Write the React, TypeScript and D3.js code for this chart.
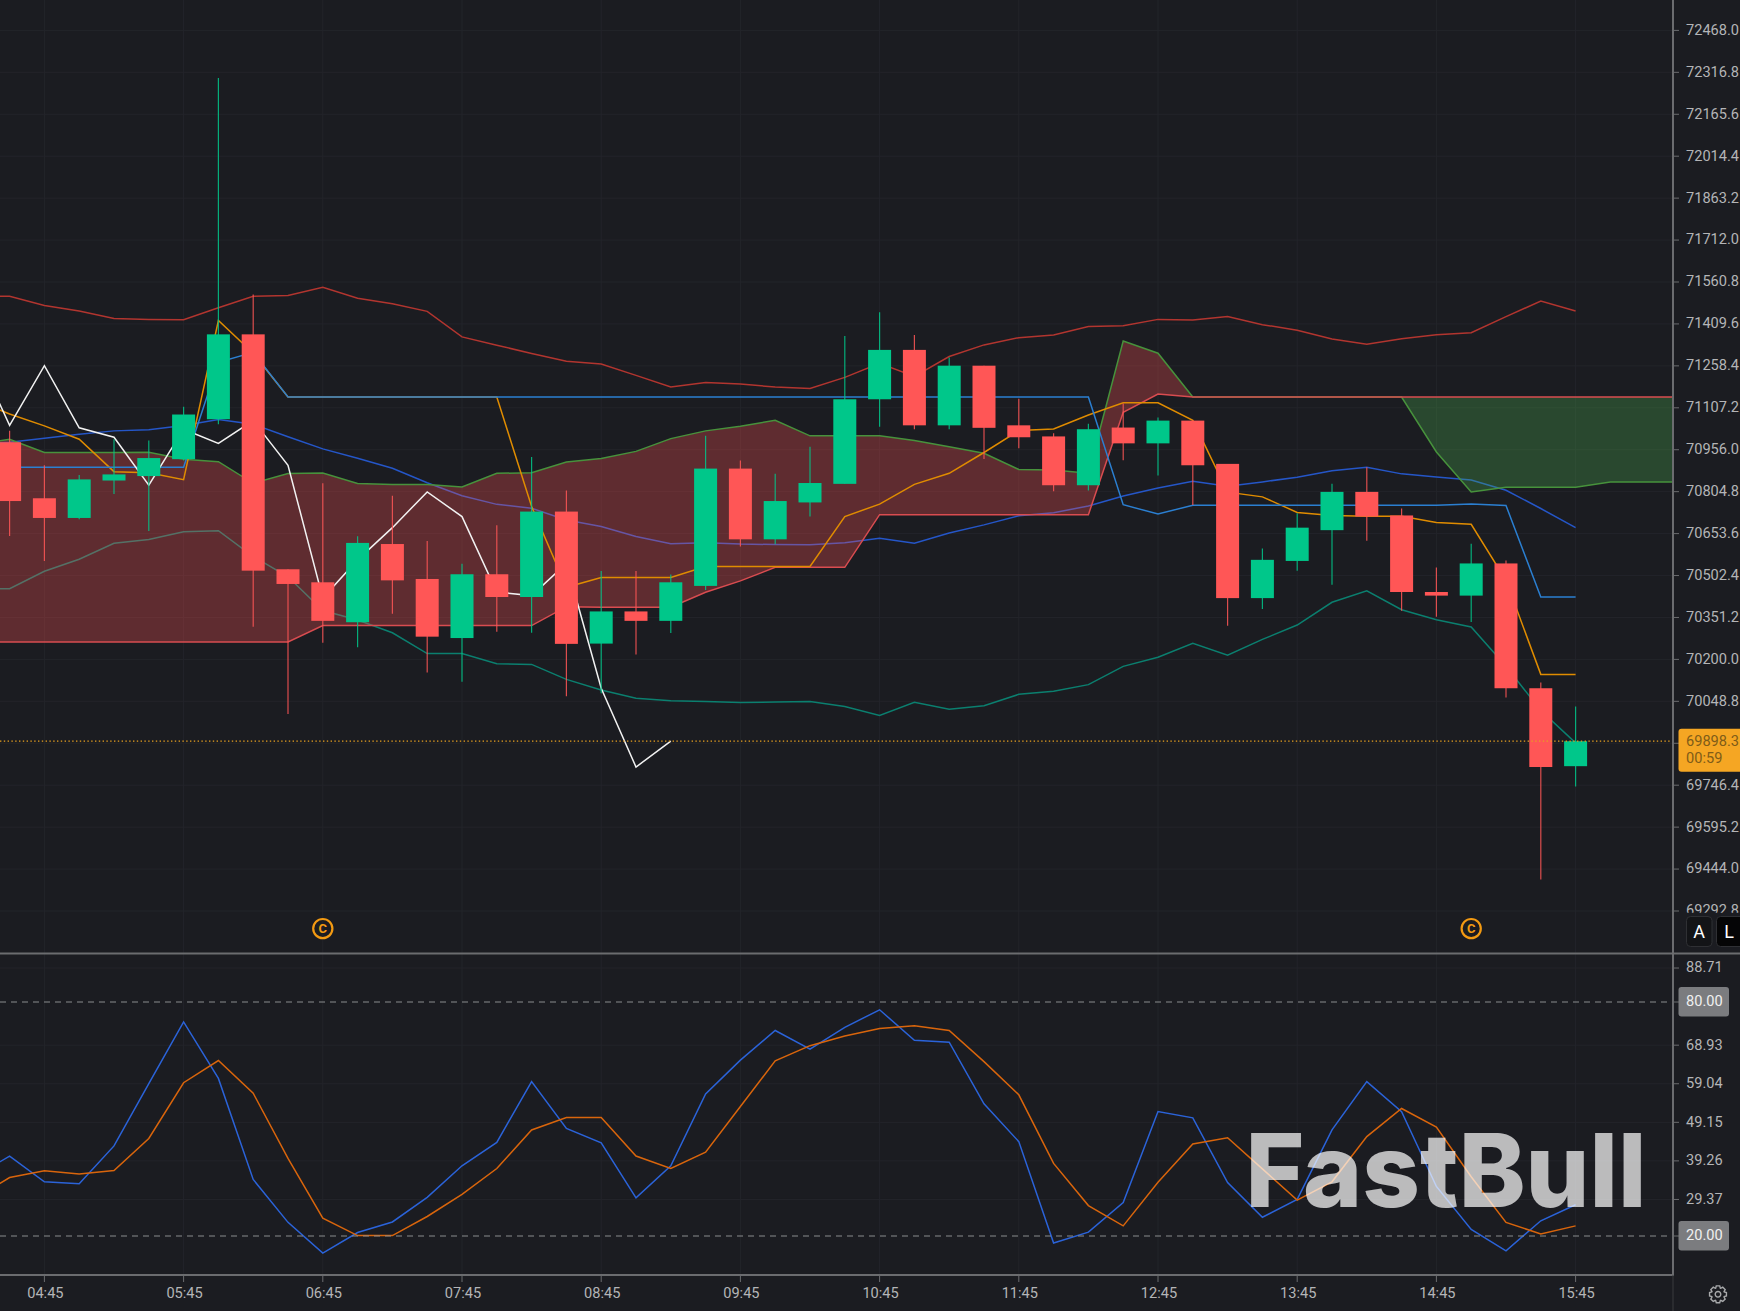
import * as d3 from 'd3';

// 15 minute bars, first bar is 04:30
const opens = [70983, 70781, 70710, 70845, 70861, 70922, 71066, 71372, 70525, 70478, 70334, 70616, 70490, 70277, 70507, 70425, 70733, 70257, 70373, 70339, 70465, 70888, 70633, 70766, 70833, 71138, 71316, 71044, 71259, 71044, 71004, 70828, 71036, 70979, 71061, 70905, 70421, 70555, 70666, 70804, 70719, 70443, 70430, 70546, 70096, 69815];
const highs = [71024, 70900, 70865, 70994, 70989, 71111, 72296, 71516, 70525, 70835, 70644, 70790, 70627, 70545, 70684, 70930, 70809, 70519, 70519, 70506, 71006, 70917, 70869, 70967, 71366, 71452, 71370, 71289, 71259, 71140, 71015, 71050, 71123, 71072, 71061, 70905, 70600, 70727, 70833, 70893, 70744, 70531, 70617, 70557, 70117, 70030];
const lows = [70645, 70555, 70705, 70796, 70663, 70917, 71048, 70318, 70003, 70260, 70244, 70365, 70153, 70119, 70300, 70296, 70067, 70078, 70218, 70295, 70450, 70607, 70615, 70715, 70833, 71039, 71030, 71030, 70923, 70961, 70806, 70809, 70918, 70863, 70757, 70321, 70382, 70520, 70469, 70628, 70375, 70354, 70335, 70063, 69406, 69742];
const closes = [70771, 70710, 70849, 70867, 70926, 71083, 71372, 70520, 70472, 70339, 70620, 70485, 70282, 70507, 70425, 70733, 70256, 70373, 70339, 70478, 70888, 70633, 70771, 70836, 71138, 71316, 71044, 71259, 71035, 71001, 70828, 71030, 70979, 71061, 70900, 70421, 70559, 70675, 70804, 70715, 70443, 70430, 70546, 70096, 69812, 69905];

// indicator lines start one bar earlier (04:15), off the left edge
const bollUpper = [71509, 71509, 71476, 71456, 71429, 71426, 71425, 71468, 71509, 71512, 71542, 71502, 71482, 71455, 71363, 71333, 71303, 71275, 71265, 71224, 71182, 71198, 71193, 71182, 71177, 71217, 71268, 71220, 71292, 71334, 71360, 71370, 71400, 71403, 71426, 71424, 71436, 71407, 71387, 71355, 71336, 71356, 71371, 71378, 71436, 71492, 71456];
const bollMiddle = [70975, 70983, 70997, 71012, 71024, 71028, 71043, 71065, 71048, 71003, 70959, 70925, 70889, 70837, 70790, 70759, 70745, 70703, 70679, 70643, 70617, 70621, 70616, 70614, 70613, 70621, 70637, 70619, 70656, 70685, 70718, 70729, 70753, 70789, 70818, 70842, 70824, 70840, 70857, 70880, 70893, 70869, 70858, 70847, 70810, 70744, 70675];
const bollLower = [70455, 70455, 70518, 70561, 70619, 70632, 70660, 70664, 70571, 70498, 70376, 70342, 70296, 70221, 70221, 70184, 70182, 70128, 70090, 70060, 70051, 70048, 70045, 70046, 70048, 70030, 69998, 70045, 70020, 70033, 70074, 70085, 70109, 70175, 70208, 70258, 70215, 70272, 70324, 70406, 70447, 70379, 70343, 70317, 70175, 70016, 69899];
const conversion = [71135, 71085, 71042, 70994, 70877, 70873, 70848, 71422, 71304, 71146, 71146, 71146, 71146, 71146, 71146, 71146, 70751, 70460, 70495, 70495, 70495, 70535, 70535, 70535, 70535, 70715, 70760, 70831, 70871, 70946, 71025, 71031, 71081, 71125, 71125, 71062, 70803, 70786, 70730, 70719, 70716, 70716, 70694, 70687, 70485, 70146, 70146];
const baseLine = [70893, 70893, 70893, 70893, 70893, 70893, 70893, 71271, 71307, 71146, 71146, 71146, 71146, 71146, 71146, 71146, 71146, 71146, 71146, 71146, 71146, 71146, 71146, 71146, 71146, 71146, 71146, 71146, 71146, 71146, 71146, 71146, 71146, 70758, 70724, 70756, 70756, 70756, 70756, 70756, 70756, 70756, 70756, 70760, 70755, 70425, 70425];
const spanA = [70975, 70994, 70946, 70946, 70946, 70947, 70922, 70913, 70835, 70870, 70872, 70834, 70831, 70831, 70822, 70871, 70873, 70912, 70924, 70950, 70996, 71024, 71041, 71062, 71006, 71006, 71006, 70989, 70967, 70943, 70885, 70883, 70871, 71348, 71304, 71146, 71146, 71146, 71146, 71146, 71146, 71146, 70948, 70804, 70821, 70821, 70821, 70840, 70840, 70840];
const spanB = [70263, 70263, 70263, 70263, 70263, 70263, 70263, 70263, 70263, 70263, 70322, 70322, 70322, 70322, 70322, 70322, 70322, 70390, 70388, 70388, 70388, 70442, 70483, 70532, 70532, 70532, 70722, 70722, 70722, 70722, 70722, 70722, 70722, 71091, 71157, 71146, 71146, 71146, 71146, 71146, 71146, 71146, 71146, 71146, 71146, 71146, 71146, 71146, 71146, 71146];
const lagging = [71316, 71044, 71259, 71035, 71001, 70828, 71030, 70979, 71061, 70900, 70421, 70559, 70675, 70804, 70715, 70443, 70430, 70546, 70096, 69812, 69905];

// lower pane
const stochK = [35.2, 40.5, 33.9, 33.4, 43.1, 59.1, 74.9, 60.4, 34.5, 23.5, 15.6, 20.9, 23.6, 29.9, 38.0, 44.0, 59.6, 47.6, 43.9, 29.8, 38.0, 56.4, 65.1, 72.7, 67.9, 73.5, 78.0, 70.2, 69.7, 53.9, 44.2, 18.2, 21.0, 28.6, 51.9, 50.3, 33.7, 24.8, 29.4, 47.2, 59.6, 51.9, 32.7, 21.7, 16.2, 23.9, 28.0];
const stochD = [29.6, 35.0, 36.7, 35.9, 36.8, 45.0, 59.3, 65.0, 56.6, 39.9, 24.6, 20.1, 20.1, 25.0, 30.7, 37.3, 47.2, 50.4, 50.4, 40.5, 37.3, 41.5, 53.2, 64.9, 68.8, 71.3, 73.2, 73.9, 72.7, 64.7, 56.2, 38.6, 27.8, 22.6, 33.8, 43.6, 45.2, 37.2, 29.2, 33.9, 45.5, 52.7, 47.9, 35.2, 23.5, 20.5, 22.6];

const priceTicks = [72468.0, 72316.8, 72165.6, 72014.4, 71863.2, 71712.0, 71560.8, 71409.6, 71258.4, 71107.2, 70956.0, 70804.8, 70653.6, 70502.4, 70351.2, 70200.0, 70048.8, 69897.6, 69746.4, 69595.2, 69444.0, 69292.8];
const stochTicks = [88.71, 68.93, 59.04, 49.15, 39.26, 29.37];
const stochLevels = [80, 20];
const timeLabels = ['04:45', '05:45', '06:45', '07:45', '08:45', '09:45', '10:45', '11:45', '12:45', '13:45', '14:45', '15:45'];
const lastPriceLabel = '69898.3';
const lastPriceLevel = 69905; // where the dotted line sits on the axis
const countdown = '00:59';
const markerBars = [9, 42];

const W = 1740;
const H = 1311;
const axisX = 1673;
const paneBottom = 953.5;
const stochBottom = 1275;

const BG = '#1b1c21';
const GRID = '#23242a';
const AXIS = '#6b6c6f';
const LABEL = '#b4b5b7';
const UP = '#00c78a';
const DOWN = '#ff5656';

const x = d3.scaleLinear().domain([0, 45]).range([9.6, 1575.6]);
const y = d3.scaleLinear().domain([72468, 69292.8]).range([30.4, 911]);
const yStoch = d3.scaleLinear().domain([80, 20]).range([1002, 1236]);

// index 0 of the indicator arrays is bar -1
const priceLine = d3.line<number>().x((_, i) => x(i - 1)).y((d) => y(d));
const stochLine = d3.line<number>().x((_, i) => x(i - 1)).y((d) => yStoch(d));

const cloudRows = spanA.map((a, i) => ({ bar: i - 1, a, b: spanB[i] }));
const cloudArea = d3
  .area<{ bar: number; a: number; b: number }>()
  .x((d) => x(d.bar))
  .y0((d) => y(d.b))
  .y1((d) => y(d.a));

const gearPoints: [number, number][] = d3.range(8).flatMap((k) => {
  const a = (k * Math.PI) / 4;
  return [
    [a - 0.2, 8.6],
    [a + 0.2, 8.6],
    [a + 0.36, 6.6],
    [a + Math.PI / 4 - 0.36, 6.6],
  ] as [number, number][];
});
const gearPath = d3.lineRadial().curve(d3.curveLinearClosed)(gearPoints) ?? '';

const font = 'Roboto, sans-serif';
const textDy = '0.3em';

export default function App() {
  const bodyWidth = 23;

  return (
    <svg
      width={W}
      height={H}
      viewBox={`0 0 ${W} ${H}`}
      style={{ position: 'absolute', left: 0, top: 0, display: 'block', background: BG }}
    >
      <defs>
        <clipPath id="pane">
          <rect x={0} y={0} width={axisX} height={paneBottom} />
        </clipPath>
        <clipPath id="lower">
          <rect x={0} y={paneBottom} width={axisX} height={stochBottom - paneBottom} />
        </clipPath>
        <clipPath id="priceLabels">
          <rect x={axisX} y={0} width={W - axisX} height={912.7} />
        </clipPath>
      </defs>

      {/* grid */}
      {priceTicks.map((t) => (
        <line key={t} x1={0} x2={axisX} y1={y(t)} y2={y(t)} stroke={GRID} />
      ))}
      {stochTicks.map((t) => (
        <line key={t} x1={0} x2={axisX} y1={yStoch(t)} y2={yStoch(t)} stroke={GRID} />
      ))}
      {timeLabels.map((t, i) => (
        <line key={t} x1={x(1 + i * 4)} x2={x(1 + i * 4)} y1={0} y2={stochBottom} stroke={GRID} />
      ))}

      {/* main pane */}
      <g clipPath="url(#pane)" fill="none" strokeWidth={1.5}>
        <path d={priceLine(bollUpper) ?? ''} stroke="#b2352f" />
        <path d={priceLine(bollMiddle) ?? ''} stroke="#2556c8" />
        <path d={priceLine(bollLower) ?? ''} stroke="#0b7f6f" />

        <path d={cloudArea(cloudRows.slice(0, 36)) ?? ''} fill="rgba(255,82,82,0.3)" stroke="none" />
        <path d={cloudArea(cloudRows.slice(41)) ?? ''} fill="rgba(76,175,80,0.3)" stroke="none" />
        <path d={priceLine(spanA) ?? ''} stroke="#47923c" />
        <path d={priceLine(spanB) ?? ''} stroke="#d94c50" />

        <path d={priceLine(conversion) ?? ''} stroke="#e08c00" />
        <path d={priceLine(baseLine) ?? ''} stroke="#2b7fd1" />
        <path d={priceLine(lagging) ?? ''} stroke="#f2f2f2" />

        {opens.map((o, i) => {
          const c = closes[i];
          const color = c >= o ? UP : DOWN;
          return (
            <g key={i}>
              <line x1={x(i)} x2={x(i)} y1={y(highs[i])} y2={y(lows[i])} stroke={color} strokeWidth={1.2} strokeOpacity={0.85} />
              <rect
                x={x(i) - bodyWidth / 2}
                y={y(Math.max(o, c))}
                width={bodyWidth}
                height={Math.max(1, Math.abs(y(o) - y(c)))}
                fill={color}
              />
            </g>
          );
        })}

        <line
          x1={0}
          x2={axisX}
          y1={y(lastPriceLevel)}
          y2={y(lastPriceLevel)}
          stroke="#e8a020"
          strokeWidth={1.3}
          strokeDasharray="1.4 2.4"
        />
      </g>

      {/* price axis */}
      <g clipPath="url(#priceLabels)">
        {priceTicks.map((t) => (
          <g key={t}>
            <line x1={axisX} x2={axisX + 6} y1={y(t)} y2={y(t)} stroke={AXIS} />
            <text x={1686} y={y(t)} dy={textDy} fontFamily={font} fontSize={14.6} fill={LABEL}>
              {t.toFixed(1)}
            </text>
          </g>
        ))}
      </g>

      {/* last price badge */}
      <rect x={1678.5} y={728.7} width={W - 1678.5 + 4} height={43} rx={3} fill="#f5a623" />
      <text x={1686} y={741.6} dy={textDy} fontFamily={font} fontSize={14.6} fill="#7f5c18">
        {lastPriceLabel}
      </text>
      <text x={1686} y={758.8} dy={textDy} fontFamily={font} fontSize={14.6} fill="#7f5c18">
        {countdown}
      </text>

      {/* A / L buttons */}
      <rect x={1686.5} y={916.5} width={25.5} height={30} rx={4} fill="#131417" stroke="#2f3034" />
      <text x={1699.2} y={931.5} dy="0.36em" textAnchor="middle" fontFamily={font} fontSize={18} fill="#fff">
        A
      </text>
      <rect x={1716.5} y={916.5} width={30} height={30} rx={4} fill="#050506" stroke="#2f3034" />
      <text x={1729} y={931.5} dy="0.36em" textAnchor="middle" fontFamily={font} fontSize={18} fill="#fff">
        L
      </text>

      {/* C markers */}
      {markerBars.map((b) => (
        <g key={b}>
          <circle cx={x(b)} cy={928.6} r={9.6} fill="none" stroke="#f39a12" strokeWidth={2.2} />
          <text
            x={x(b)}
            y={928.6}
            dy="0.36em"
            textAnchor="middle"
            fontFamily={font}
            fontWeight={700}
            fontSize={13}
            fill="#f39a12"
          >
            C
          </text>
        </g>
      ))}

      {/* stochastic pane */}
      <g clipPath="url(#lower)" fill="none" strokeWidth={1.5}>
        <path d={stochLine(stochK) ?? ''} stroke="#2b63d9" />
        <path d={stochLine(stochD) ?? ''} stroke="#d9650c" />
        {stochLevels.map((l) => (
          <line key={l} x1={0} x2={axisX} y1={yStoch(l)} y2={yStoch(l)} stroke="#8a8b8e" strokeDasharray="6 5" strokeWidth={1.2} />
        ))}
      </g>

      {stochTicks.map((t) => (
        <g key={t}>
          <line x1={axisX} x2={axisX + 6} y1={yStoch(t)} y2={yStoch(t)} stroke={AXIS} />
          <text x={1686} y={yStoch(t)} dy={textDy} fontFamily={font} fontSize={14.6} fill={LABEL}>
            {t.toFixed(2)}
          </text>
        </g>
      ))}
      {stochLevels.map((l) => (
        <g key={l}>
          <line x1={axisX} x2={axisX + 6} y1={yStoch(l)} y2={yStoch(l)} stroke={AXIS} />
          <rect x={1678.5} y={yStoch(l) - 15} width={50.5} height={29.4} rx={3} fill="#7b7c7f" />
          <text x={1686} y={yStoch(l) - 0.4} dy={textDy} fontFamily={font} fontSize={14.6} fill="#f0f0f0">
            {l.toFixed(2)}
          </text>
        </g>
      ))}

      {/* frame */}
      <line x1={0} x2={W} y1={paneBottom} y2={paneBottom} stroke={AXIS} strokeWidth={2} />
      <line x1={0} x2={axisX + 1} y1={stochBottom} y2={stochBottom} stroke={AXIS} strokeWidth={2} />
      <line x1={axisX} x2={axisX} y1={0} y2={stochBottom} stroke={AXIS} strokeWidth={2} />
      <line x1={axisX} x2={axisX} y1={stochBottom} y2={H} stroke="#3a3b3f" />

      {/* time axis */}
      {timeLabels.map((t, i) => (
        <g key={t}>
          <line x1={x(1 + i * 4)} x2={x(1 + i * 4)} y1={stochBottom} y2={stochBottom + 7} stroke={AXIS} />
          <text
            x={x(1 + i * 4) + 1}
            y={1294}
            dy={textDy}
            textAnchor="middle"
            fontFamily={font}
            fontSize={14.6}
            fill={LABEL}
          >
            {t}
          </text>
        </g>
      ))}

      {/* settings icon */}
      <g transform="translate(1718,1294.3)" fill="none" stroke="#a8a9ab" strokeWidth={1.4}>
        <path d={gearPath} />
        <circle r={2.8} />
      </g>

      {/* watermark */}
      <text
        x={1245.5}
        y={1207}
        textLength={401}
        lengthAdjust="spacingAndGlyphs"
        fontFamily="Inter, sans-serif"
        fontWeight={800}
        fontSize={102}
        fill="#ffffff"
        fillOpacity={0.7}
      >
        FastBull
      </text>
    </svg>
  );
}
